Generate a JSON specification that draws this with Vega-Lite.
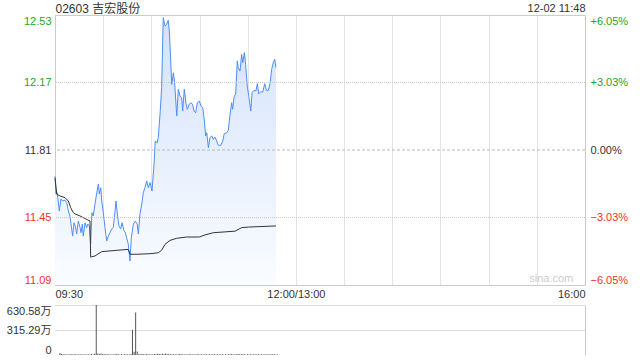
{
  "$schema": "https://vega.github.io/schema/vega-lite/v6.json",
  "background": "white",
  "padding": {"left": 6, "top": 1, "right": 5, "bottom": 0},
  "spacing": 20,
  "bounds": "flush",
  "config": {
    "font": "Liberation Sans, Noto Sans CJK SC",
    "axis": {"labelFont": "Liberation Sans, Noto Sans CJK SC", "labelFontSize": 11, "labelColor": "#333333", "titleFont": "Liberation Sans, Noto Sans CJK SC"},
    "view": {"stroke": "#cccccc"}
  },
  "datasets": {
    "price": [
      {"t":0,"p":11.67},{"t":0.6,"p":11.575},{"t":1.4,"p":11.582},{"t":2.7,"p":11.485},{"t":3.7,"p":11.549},{"t":4.8,"p":11.538},{"t":6.2,"p":11.543},{"t":7.3,"p":11.529},{"t":8.3,"p":11.485},{"t":9.3,"p":11.458},{"t":10.4,"p":11.389},{"t":11.0,"p":11.351},{"t":11.8,"p":11.422},{"t":12.6,"p":11.405},{"t":13.5,"p":11.362},{"t":14.5,"p":11.431},{"t":15.6,"p":11.396},{"t":16.2,"p":11.369},{"t":17.0,"p":11.415},{"t":17.6,"p":11.351},{"t":18.7,"p":11.422},{"t":19.7,"p":11.396},{"t":20.4,"p":11.415},{"t":21.4,"p":11.405},{"t":22.2,"p":11.309},{"t":23.0,"p":11.476},{"t":23.8,"p":11.458},{"t":24.9,"p":11.522},{"t":26.0,"p":11.582},{"t":27.0,"p":11.629},{"t":27.6,"p":11.575},{"t":28.5,"p":11.609},{"t":29.1,"p":11.538},{"t":30.1,"p":11.476},{"t":31.1,"p":11.396},{"t":32.2,"p":11.325},{"t":33.2,"p":11.351},{"t":34.2,"p":11.369},{"t":35.3,"p":11.389},{"t":36.3,"p":11.396},{"t":37.4,"p":11.485},{"t":38.0,"p":11.538},{"t":38.8,"p":11.469},{"t":39.8,"p":11.405},{"t":40.9,"p":11.389},{"t":41.7,"p":11.422},{"t":43.0,"p":11.378},{"t":43.8,"p":11.369},{"t":44.6,"p":11.342},{"t":45.6,"p":11.309},{"t":46.7,"p":11.218},{"t":47.5,"p":11.342},{"t":48.8,"p":11.415},{"t":50.0,"p":11.431},{"t":51.2,"p":11.415},{"t":51.9,"p":11.362},{"t":52.9,"p":11.469},{"t":54.0,"p":11.522},{"t":55.0,"p":11.582},{"t":56.0,"p":11.609},{"t":57.1,"p":11.645},{"t":58.1,"p":11.609},{"t":59.2,"p":11.636},{"t":60.4,"p":11.591},{"t":61.2,"p":11.682},{"t":61.8,"p":11.751},{"t":62.4,"p":11.858},{"t":63.7,"p":11.849},{"t":64.3,"p":11.876},{"t":65.4,"p":12.002},{"t":66.4,"p":12.142},{"t":67.4,"p":12.516},{"t":68.5,"p":12.471},{"t":69.5,"p":12.48},{"t":70.5,"p":12.502},{"t":71.2,"p":12.445},{"t":72.7,"p":12.16},{"t":73.7,"p":12.222},{"t":74.5,"p":12.169},{"t":75.8,"p":11.991},{"t":76.8,"p":12.134},{"t":77.8,"p":12.098},{"t":78.9,"p":12.089},{"t":79.5,"p":12.018},{"t":80.5,"p":12.134},{"t":81.6,"p":12.054},{"t":82.4,"p":12.027},{"t":83.6,"p":12.054},{"t":84.5,"p":12.062},{"t":85.7,"p":12.054},{"t":86.5,"p":12.018},{"t":87.6,"p":12.009},{"t":88.6,"p":12.062},{"t":89.8,"p":12.071},{"t":90.9,"p":12.045},{"t":92.0,"p":12.036},{"t":93.0,"p":11.965},{"t":93.8,"p":11.885},{"t":94.5,"p":11.902},{"t":95.5,"p":11.822},{"t":96.5,"p":11.876},{"t":97.6,"p":11.885},{"t":98.6,"p":11.867},{"t":99.6,"p":11.879},{"t":100.7,"p":11.858},{"t":101.7,"p":11.835},{"t":103.2,"p":11.835},{"t":104.4,"p":11.858},{"t":105.4,"p":11.897},{"t":106.9,"p":11.902},{"t":107.9,"p":11.915},{"t":109.0,"p":12.0},{"t":110.0,"p":12.062},{"t":110.6,"p":12.027},{"t":111.6,"p":12.098},{"t":112.5,"p":12.107},{"t":113.5,"p":12.285},{"t":114.1,"p":12.249},{"t":115.2,"p":12.231},{"t":116.2,"p":12.32},{"t":116.9,"p":12.276},{"t":117.9,"p":12.329},{"t":118.7,"p":12.267},{"t":119.7,"p":12.151},{"t":120.8,"p":12.089},{"t":121.9,"p":12.018},{"t":122.7,"p":12.116},{"t":123.9,"p":12.128},{"t":125.1,"p":12.125},{"t":126.0,"p":12.164},{"t":126.8,"p":12.11},{"t":128.1,"p":12.121},{"t":129.3,"p":12.119},{"t":130.6,"p":12.164},{"t":131.6,"p":12.128},{"t":132.8,"p":12.128},{"t":133.9,"p":12.164},{"t":134.9,"p":12.24},{"t":135.9,"p":12.276},{"t":136.8,"p":12.294},{"t":137.6,"p":12.249}
    ],
    "avg": [
      {"t":0,"a":11.662},{"t":1.1,"a":11.574},{"t":3.1,"a":11.565},{"t":6.2,"a":11.556},{"t":8.3,"a":11.538},{"t":9.8,"a":11.502},{"t":11.4,"a":11.476},{"t":12.5,"a":11.469},{"t":15.6,"a":11.458},{"t":19.7,"a":11.44},{"t":21.8,"a":11.431},{"t":22.2,"a":11.239},{"t":24.9,"a":11.245},{"t":29.1,"a":11.268},{"t":38.4,"a":11.275},{"t":45.6,"a":11.28},{"t":46.7,"a":11.254},{"t":50.9,"a":11.254},{"t":59.2,"a":11.257},{"t":64.3,"a":11.262},{"t":66.4,"a":11.275},{"t":68.5,"a":11.307},{"t":71.6,"a":11.328},{"t":75.8,"a":11.339},{"t":82.0,"a":11.346},{"t":89.8,"a":11.346},{"t":93.4,"a":11.357},{"t":98.6,"a":11.369},{"t":112.1,"a":11.377},{"t":116.2,"a":11.396},{"t":120.4,"a":11.399},{"t":137.6,"a":11.405}
    ],
    "vol": [
      {"t":0,"v":25},{"t":1,"v":12},{"t":2,"v":8},{"t":3,"v":10},{"t":4,"v":6},{"t":5,"v":9},{"t":6,"v":7},{"t":7,"v":12},{"t":8,"v":5},{"t":9,"v":8},{"t":10,"v":11},{"t":11,"v":6},{"t":12,"v":9},{"t":13,"v":7},{"t":14,"v":10},{"t":15,"v":5},{"t":16,"v":8},{"t":17,"v":6},{"t":18,"v":9},{"t":19,"v":7},{"t":20,"v":12},{"t":21,"v":6},{"t":22,"v":15},{"t":23,"v":630.58},{"t":24,"v":20},{"t":25,"v":14},{"t":26,"v":18},{"t":27,"v":10},{"t":28,"v":12},{"t":29,"v":8},{"t":30,"v":9},{"t":31,"v":11},{"t":32,"v":7},{"t":33,"v":10},{"t":34,"v":6},{"t":35,"v":9},{"t":36,"v":12},{"t":37,"v":8},{"t":38,"v":7},{"t":39,"v":10},{"t":40,"v":6},{"t":41,"v":9},{"t":42,"v":8},{"t":43,"v":11},{"t":44,"v":7},{"t":45,"v":13},{"t":46,"v":320},{"t":47,"v":40},{"t":48,"v":535},{"t":49,"v":45},{"t":50,"v":12},{"t":51,"v":9},{"t":52,"v":14},{"t":53,"v":10},{"t":54,"v":8},{"t":55,"v":12},{"t":56,"v":9},{"t":57,"v":11},{"t":58,"v":7},{"t":59,"v":10},{"t":60,"v":13},{"t":61,"v":9},{"t":62,"v":16},{"t":63,"v":12},{"t":64,"v":10},{"t":65,"v":15},{"t":66,"v":11},{"t":67,"v":18},{"t":68,"v":14},{"t":69,"v":12},{"t":70,"v":9},{"t":71,"v":11},{"t":72,"v":8},{"t":73,"v":10},{"t":74,"v":7},{"t":75,"v":9},{"t":76,"v":12},{"t":77,"v":8},{"t":78,"v":10},{"t":79,"v":6},{"t":80,"v":9},{"t":81,"v":7},{"t":82,"v":11},{"t":83,"v":8},{"t":84,"v":6},{"t":85,"v":9},{"t":86,"v":7},{"t":87,"v":10},{"t":88,"v":8},{"t":89,"v":6},{"t":90,"v":9},{"t":91,"v":7},{"t":92,"v":11},{"t":93,"v":8},{"t":94,"v":6},{"t":95,"v":10},{"t":96,"v":7},{"t":97,"v":9},{"t":98,"v":8},{"t":99,"v":6},{"t":100,"v":10},{"t":101,"v":7},{"t":102,"v":9},{"t":103,"v":8},{"t":104,"v":6},{"t":105,"v":11},{"t":106,"v":7},{"t":107,"v":9},{"t":108,"v":8},{"t":109,"v":12},{"t":110,"v":7},{"t":111,"v":10},{"t":112,"v":8},{"t":113,"v":14},{"t":114,"v":9},{"t":115,"v":11},{"t":116,"v":8},{"t":117,"v":10},{"t":118,"v":6},{"t":119,"v":9},{"t":120,"v":7},{"t":121,"v":8},{"t":122,"v":6},{"t":123,"v":9},{"t":124,"v":7},{"t":125,"v":8},{"t":126,"v":10},{"t":127,"v":6},{"t":128,"v":9},{"t":129,"v":7},{"t":130,"v":8},{"t":131,"v":6},{"t":132,"v":9},{"t":133,"v":7},{"t":134,"v":10},{"t":135,"v":8},{"t":136,"v":9},{"t":137,"v":7},{"t":138,"v":6}
    ]
  },
  "vconcat": [
    {
      "width": 530,
      "height": 270,
      "layer": [
        {
          "layer": [
            {
              "data": {"name": "price"},
              "mark": {"type": "area", "line": false, "color": {"gradient": "linear", "x1": 0, "y1": 0, "x2": 0, "y2": 1, "stops": [{"offset": 0, "color": "#d3e2fb"}, {"offset": 1, "color": "#fafcff"}]}},
              "encoding": {
                "x": {"field": "t", "type": "quantitative", "scale": {"domain": [0, 330], "nice": false, "zero": false},
                  "axis": {"values": [0,30,60,90,120,150,180,210,240,270,300,330], "labelExpr": "datum.value == 0 ? '09:30' : datum.value == 150 ? '12:00/13:00' : datum.value == 330 ? '16:00' : ''", "labelFlush": true, "labelOverlap": false, "ticks": false, "domain": false, "grid": true, "gridColor": "#c8c8c8", "gridDash": [1, 1], "labelPadding": 3, "title": null}},
                "y": {"field": "p", "type": "quantitative", "stack": null, "scale": {"domain": [11.09, 12.53], "nice": false, "zero": false},
                  "axis": {"values": [11.09, 11.45, 11.81, 12.17, 12.53], "format": ".2f", "labelFlush": true, "labelOverlap": false, "ticks": false, "domain": false, "grid": false, "labelPadding": 4,
                    "labelColor": {"condition": [{"test": "datum.value > 11.82", "value": "#22a822"}, {"test": "datum.value < 11.8", "value": "#f23030"}], "value": "#333333"},
                    "title": "02603 吉宏股份", "titleAngle": 0, "titleAlign": "left", "titleBaseline": "middle", "titleX": 0, "titleY": -7, "titleFontSize": 12, "titleFontWeight": "normal", "titleColor": "#333333"}},
                "y2": {"datum": 11.09}
              }
            },
            {
              "data": {"name": "price"},
              "mark": {"type": "line", "color": "#4e8ef7", "strokeWidth": 1},
              "encoding": {"x": {"field": "t", "type": "quantitative"}, "y": {"field": "p", "type": "quantitative"}}
            },
            {
              "data": {"name": "avg"},
              "mark": {"type": "line", "color": "#333333", "strokeWidth": 1},
              "encoding": {"x": {"field": "t", "type": "quantitative"}, "y": {"field": "a", "type": "quantitative"}}
            }
          ]
        },
        {
          "layer": [
            {
              "data": {"values": [{"pct": 3.03}, {"pct": -3.03}]},
              "mark": {"type": "rule", "color": "#c8c8c8", "strokeDash": [1, 1]},
              "encoding": {
                "y": {"field": "pct", "type": "quantitative", "scale": {"domain": [-6.05, 6.05], "nice": false, "zero": false},
                  "axis": {"orient": "right", "values": [-6.05, -3.03, 0, 3.03, 6.05], "labelExpr": "datum.value > 0 ? '+' + format(datum.value, '.2f') + '%' : format(datum.value, '.2f') + '%'", "labelFlush": true, "labelOverlap": false, "ticks": false, "domain": false, "grid": false, "labelPadding": 5,
                    "labelColor": {"condition": [{"test": "datum.value > 0.01", "value": "#22a822"}, {"test": "datum.value < -0.01", "value": "#f23030"}], "value": "#333333"},
                    "title": "12-02 11:48", "titleAngle": 0, "titleAlign": "right", "titleBaseline": "middle", "titleX": 0, "titleY": -7, "titleFontSize": 11, "titleFontWeight": "normal", "titleColor": "#333333"}}
              }
            },
            {
              "data": {"values": [{"pct": 0}]},
              "mark": {"type": "rule", "color": "#b8b8b8", "strokeDash": [3, 2]},
              "encoding": {"y": {"field": "pct", "type": "quantitative"}}
            },
            {
              "data": {"values": [{"label": "sina.com"}]},
              "mark": {"type": "text", "color": "#cccccc", "fontSize": 11, "align": "center", "baseline": "middle"},
              "encoding": {"x": {"datum": 309}, "y": {"datum": -5.8}, "text": {"field": "label"}}
            }
          ]
        }
      ],
      "resolve": {"scale": {"y": "independent"}}
    },
    {
      "width": 530,
      "height": 50,
      "view": {"stroke": null},
      "layer": [
        {
          "data": {"name": "vol"},
          "mark": {"type": "bar", "width": 1, "color": "#555555"},
          "encoding": {
            "x": {"field": "t", "type": "quantitative", "scale": {"domain": [0, 330], "nice": false}, "axis": null},
            "y": {"field": "v", "type": "quantitative", "scale": {"domain": [0, 630.58], "nice": false},
              "axis": {"values": [0, 315.29, 630.58], "labelExpr": "datum.value == 0 ? '0' : format(datum.value, '.2f') + '万'", "labelFlush": true, "labelOverlap": false, "ticks": false, "domain": false, "grid": true, "gridColor": "#b8b8b8", "gridDash": [1, 1], "labelPadding": 4, "title": null}}
          }
        },
        {
          "data": {"name": "vol"},
          "mark": {"type": "bar", "width": 1, "opacity": 0},
          "encoding": {
            "x": {"field": "t", "type": "quantitative", "axis": null},
            "y": {"field": "v", "type": "quantitative",
              "axis": {"orient": "right", "labels": false, "ticks": false, "grid": false, "domain": true, "domainColor": "#cccccc", "title": null}}
          }
        }
      ],
      "resolve": {"axis": {"y": "independent"}}
    }
  ]
}
